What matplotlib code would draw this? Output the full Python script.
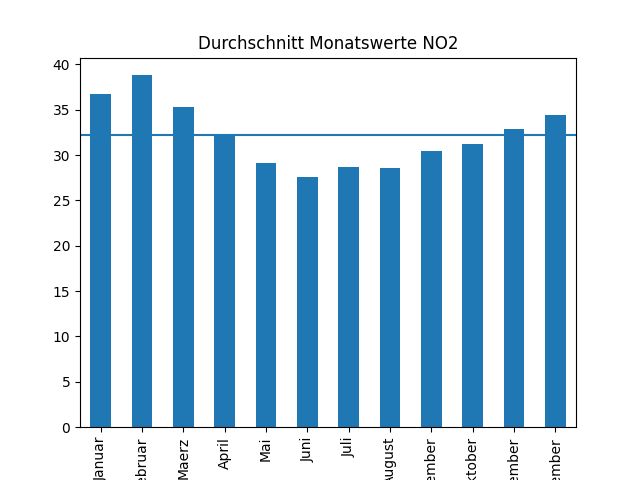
import pandas as pd
import matplotlib
matplotlib.use('Agg')
import matplotlib.pyplot as plt

monate = ['Januar', 'Februar', 'Maerz', 'April', 'Mai', 'Juni', 'Juli',
          'August', 'September', 'Oktober', 'November', 'Dezember']
no2 = [36.7, 38.8, 35.3, 32.3, 29.1, 27.6, 28.7, 28.6, 30.4, 31.2, 32.9, 34.4]

s = pd.Series(no2, index=monate)

ax = s.plot.bar()
ax.axhline(s.mean())
ax.set_title('Durchschnitt Monatswerte NO2')

plt.savefig('out.png')
